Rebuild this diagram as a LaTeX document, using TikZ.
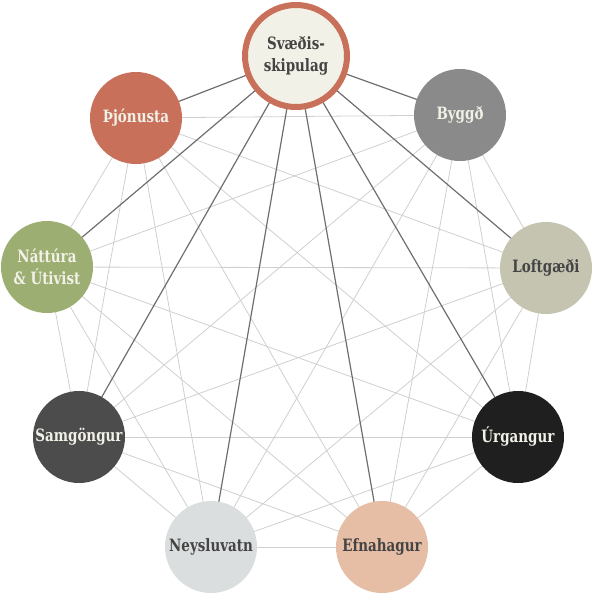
\documentclass[tikz,border=0pt]{standalone}
\usepackage{fontspec}
\setmainfont[FakeStretch=0.88]{DejaVu Serif Condensed}
\definecolor{cream}{HTML}{F2F1E7}
\definecolor{rust}{HTML}{C8705A}
\definecolor{cgray}{HTML}{898A89}
\definecolor{cgreen}{HTML}{9DAE73}
\definecolor{ckhaki}{HTML}{C4C4B1}
\definecolor{cdark}{HTML}{4B4C4B}
\definecolor{cblack}{HTML}{1F1F1F}
\definecolor{clight}{HTML}{DADEDE}
\definecolor{cpeach}{HTML}{E6BDA5}
\definecolor{txtdark}{HTML}{444444}
\definecolor{linelight}{HTML}{CFCFCF}
\definecolor{linedark}{HTML}{6E6E6E}
\tikzset{
  topic/.style={circle, minimum size=92pt, inner sep=0pt, align=center,
    font=\fontsize{17}{22}\selectfont\bfseries},
  hub/.style={circle, minimum size=102pt, inner sep=0pt, align=center,
    fill=cream, draw=rust, line width=6pt, text=txtdark,
    font=\fontsize{17}{22}\selectfont\bfseries},
  weak/.style={draw=linelight, line width=0.8pt},
  strong/.style={draw=linedark, line width=1.2pt}
}
\begin{document}
\begin{tikzpicture}[x=1pt,y=-1pt]
\useasboundingbox (0,0) rectangle (595,599);
% node coordinates
\coordinate (p0) at (296,56);
\coordinate (p1) at (136,118);
\coordinate (p2) at (460,115);
\coordinate (p3) at (47,267);
\coordinate (p4) at (546,268);
\coordinate (p5) at (79,437);
\coordinate (p6) at (518,437);
\coordinate (p7) at (211,547);
\coordinate (p8) at (382,547);
% weak links among all topics
\foreach \i in {1,...,8}{
  \foreach \j in {1,...,8}{
    \ifnum\i<\j
      \draw[weak] (p\i) -- (p\j);
    \fi
  }
}
% strong links from hub
\foreach \i in {1,...,8}{
  \draw[strong] (p0) -- (p\i);
}
\node[hub] (n0) at (p0) {Svæðis-\\skipulag};
\node[topic, fill=rust, text=cream] (n1) at (p1) {Þjónusta};
\node[topic, fill=cgray, text=cream] (n2) at (p2) {Byggð};
\node[topic, fill=cgreen, text=cream] (n3) at (p3) {Náttúra\\\& Útivist};
\node[topic, fill=ckhaki, text=txtdark] (n4) at (p4) {Loftgæði};
\node[topic, fill=cdark, text=cream] (n5) at (p5) {Samgöngur};
\node[topic, fill=cblack, text=cream] (n6) at (p6) {Úrgangur};
\node[topic, fill=clight, text=txtdark] (n7) at (p7) {Neysluvatn};
\node[topic, fill=cpeach, text=txtdark] (n8) at (p8) {Efnahagur};
\end{tikzpicture}
\end{document}
